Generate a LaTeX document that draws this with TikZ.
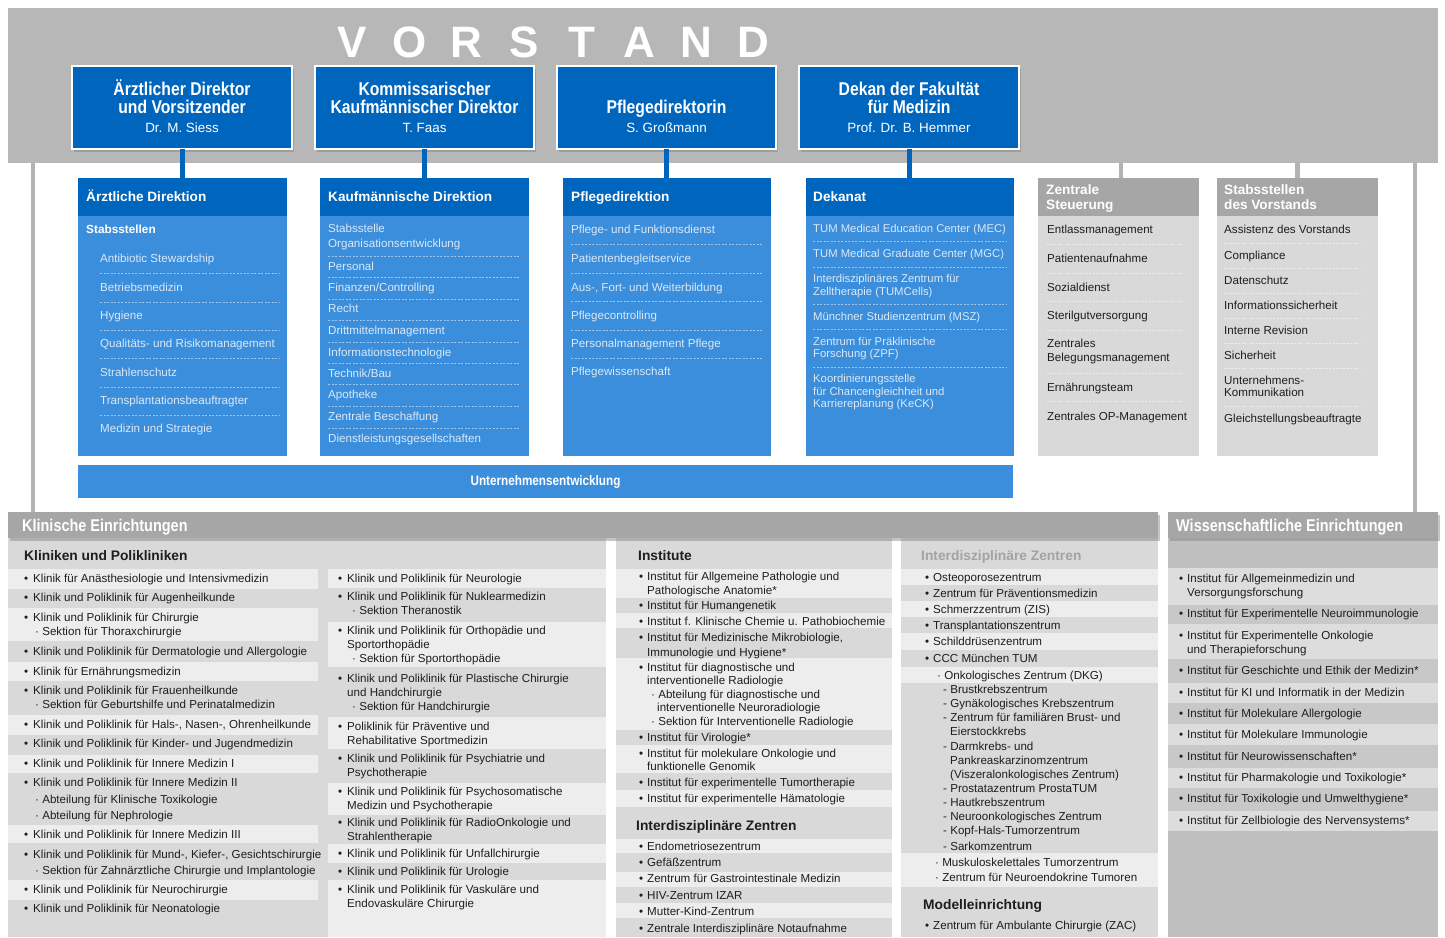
\documentclass[tikz,border=0pt]{standalone}
\usepackage{fontspec}
\setmainfont{Liberation Sans}
\newfontfamily\narrowfont[FakeStretch=0.85]{Liberation Sans}
\usetikzlibrary{shadows}
\definecolor{tumblue}{HTML}{0065BD}
\definecolor{lightblue}{HTML}{3A8EDC}
\definecolor{bandgray}{HTML}{B7B7B7}
\definecolor{hdrgray}{HTML}{A6A6A6}
\definecolor{panelgray}{HTML}{D9D9D9}
\definecolor{stripe}{HTML}{EDEDED}
\definecolor{wissbg}{HTML}{BFBFBF}
\definecolor{wissdark}{HTML}{C8C8C8}
\definecolor{wisslight}{HTML}{DDDDDD}
\definecolor{txt}{HTML}{1E1E1E}
\definecolor{btxt}{HTML}{DCE8F6}
\definecolor{dashblue}{HTML}{A0C6EE}
\definecolor{dashgray}{HTML}{EEEEEE}
\definecolor{linegray}{HTML}{B3B3B3}
\definecolor{titlegray}{HTML}{A3A3A3}
\newcounter{tn}
\newcommand\putT[4]{\stepcounter{tn}\node[#1] (t\thetn) at (#2,#3) {#4};}
\newcommand\lsB[2]{\stepcounter{tn}\node[lt] (b\thetn) at (\colB,#1) {•};\node[lt] (t\thetn) at (\colT,#1) {#2};}
\newcommand\lsC[2]{\stepcounter{tn}\node[lt] (t\thetn) at (\colT,#1) {#2};}
\newcommand\lsX[3]{\stepcounter{tn}\node[lt] (t\thetn) at (#1,#2) {#3};}
\begin{document}
\begin{tikzpicture}[x=1pt,y=-1pt,
  lt/.style={anchor=west,inner sep=0pt,text=txt,font=\fontsize{11.6}{14}\selectfont,text height=9pt,text depth=1pt},
  bt/.style={lt,text=btxt},
  dt/.style={lt,text=btxt,font=\fontsize{11.3}{13}\selectfont},
  bth/.style={lt,text=white,font=\bfseries\fontsize{11.8}{14}\selectfont},
  hdr/.style={anchor=west,inner sep=0pt,text=white,font=\bfseries\fontsize{13.6}{16}\selectfont,text height=9.8pt,text depth=0pt},
  ttl/.style={anchor=west,inner sep=0pt,text=txt,font=\bfseries\fontsize{13.8}{16}\selectfont,text height=9.9pt,text depth=0pt},
  topt/.style={inner sep=0pt,text=white,font=\narrowfont\bfseries\fontsize{18.5}{20}\selectfont,text height=13.3pt,text depth=0pt},
  topn/.style={inner sep=0pt,text=white,font=\fontsize{13.4}{15}\selectfont,text height=9.6pt,text depth=0pt},
  bar/.style={anchor=west,inner sep=0pt,text=white,font=\narrowfont\bfseries\fontsize{17}{19}\selectfont,text height=12.2pt,text depth=0pt},
  box/.style={anchor=north west,inner sep=0pt,outer sep=0pt},
  dsep/.style={draw=dashblue,line width=0.8pt,dash pattern=on 2.2pt off 1.3pt},
  gsep/.style={draw=dashgray,line width=0.8pt,dash pattern=on 2.2pt off 1.3pt},
  bconn/.style={draw=tumblue,line width=5pt},
  gconn/.style={draw=linegray,line width=4.5pt},
  shd/.style={drop shadow={opacity=0.45,shadow xshift=2pt,shadow yshift=-3pt}}
]
\useasboundingbox (0,0) rectangle (1445,937);
\fill[white] (0,0) rectangle (1445,937);

% ---------- Vorstand band ----------
\node[box,fill=bandgray,minimum width=1430pt,minimum height=155pt] (band) at (8,8) {};
\foreach \l [count=\i] in {V,O,R,S,T,A,N,D}
  \node[inner sep=0pt,text=white,font=\bfseries\fontsize{44}{44}\selectfont] (v\i) at (352+57.4*\i-57.4,42) {\l};

% ---------- boxes ----------
\node[box,fill=lightblue,minimum width=209pt,minimum height=278pt] (dir1) at (78,178) {};
\node[box,fill=lightblue,minimum width=209pt,minimum height=278pt] (dir2) at (320,178) {};
\node[box,fill=lightblue,minimum width=208pt,minimum height=278pt] (dir3) at (563,178) {};
\node[box,fill=lightblue,minimum width=208pt,minimum height=278pt] (dir4) at (806,178) {};
\node[box,fill=tumblue,minimum width=209pt,minimum height=38pt] (dir1h) at (78,178) {};
\node[box,fill=tumblue,minimum width=209pt,minimum height=38pt] (dir2h) at (320,178) {};
\node[box,fill=tumblue,minimum width=208pt,minimum height=38pt] (dir3h) at (563,178) {};
\node[box,fill=tumblue,minimum width=208pt,minimum height=38pt] (dir4h) at (806,178) {};
\node[box,fill=panelgray,minimum width=161pt,minimum height=278pt] (zs) at (1038,178) {};
\node[box,fill=hdrgray,minimum width=161pt,minimum height=38pt] (zsh) at (1038,178) {};
\node[box,fill=panelgray,minimum width=161pt,minimum height=278pt] (sv) at (1217,178) {};
\node[box,fill=hdrgray,minimum width=161pt,minimum height=38pt] (svh) at (1217,178) {};
\node[box,fill=lightblue,minimum width=935pt,minimum height=33pt] (ue) at (78,465) {};
\node[text=white,inner sep=0pt,font=\narrowfont\bfseries\fontsize{13.8}{15}\selectfont] (uet) at (ue.center) {Unternehmensentwicklung};

% panels
\node[box,fill=panelgray,minimum width=598pt,minimum height=399pt] (kp) at (8,538) {};
\node[box,fill=panelgray,minimum width=276pt,minimum height=399pt] (ip) at (616,538) {};
\node[box,fill=panelgray,minimum width=257pt,minimum height=399pt] (zp) at (901,538) {};
\node[box,fill=wissbg,minimum width=270pt,minimum height=399pt] (wp) at (1168,538) {};

% connectors
\coordinate (gl) at (33,163);
\coordinate (gr) at (1415,163);
\node[box,fill=hdrgray,minimum width=1150pt,minimum height=26pt,shd] (klin) at (8,512) {};
\node[box,fill=hdrgray,minimum width=270pt,minimum height=26pt,shd] (wiss) at (1168,512) {};
\draw[gconn] (gl) -- (gl |- klin.north);
\draw[gconn] (gr) -- (gr |- wiss.north);
\draw[gconn] (1121,163) coordinate (zsc) -- (zsc |- zs.north);
\draw[gconn] (sv.north) -- (sv.north |- band.south);

\node[box,fill=tumblue,draw=white,line width=2pt,minimum width=220pt,minimum height=83pt,shd] (top1) at (72,66) {};
\node[box,fill=tumblue,draw=white,line width=2pt,minimum width=219pt,minimum height=83pt,shd] (top2) at (315,66) {};
\node[box,fill=tumblue,draw=white,line width=2pt,minimum width=219pt,minimum height=83pt,shd] (top3) at (557,66) {};
\node[box,fill=tumblue,draw=white,line width=2pt,minimum width=220pt,minimum height=83pt,shd] (top4) at (799,66) {};
\draw[bconn] (top1.south) -- (top1.south |- dir1.north);
\draw[bconn] (top2.south) -- (top2.south |- dir2.north);
\draw[bconn] (top3.south) -- (top3.south |- dir3.north);
\draw[bconn] (top4.south) -- (top4.south |- dir4.north);

% top box texts
\node[topt] (top1a) at (182,89) {Ärztlicher Direktor};
\node[topt] (top1b) at (182,107) {und Vorsitzender};
\node[topn] (top1c) at (182,128) {Dr. M. Siess};
\node[topt] (top2a) at (424.5,89) {Kommissarischer};
\node[topt] (top2b) at (424.5,107) {Kaufmännischer Direktor};
\node[topn] (top2c) at (424.5,128) {T. Faas};
\node[topt] (top3a) at (666.5,107) {Pflegedirektorin};
\node[topn] (top3c) at (666.5,128) {S. Großmann};
\node[topt] (top4a) at (909,89) {Dekan der Fakultät};
\node[topt] (top4b) at (909,107) {für Medizin};
\node[topn] (top4c) at (909,128) {Prof. Dr. B. Hemmer};

% ---------- Direktion headers ----------
\node[hdr] (h1) at (86,197) {Ärztliche Direktion};
\node[hdr] (h2) at (328,197) {Kaufmännische Direktion};
\node[hdr] (h3) at (571,197) {Pflegedirektion};
\node[hdr] (h4) at (813,197) {Dekanat};
\node[hdr] (h5a) at (1046,190) {Zentrale};
\node[hdr] (h5b) at (1046,205) {Steuerung};
\node[hdr] (h6a) at (1224,190) {Stabsstellen};
\node[hdr] (h6b) at (1224,205) {des Vorstands};

% Ärztliche Direktion
\putT{bth}{86}{229}{Stabsstellen}
\putT{bt}{100}{258}{Antibiotic Stewardship}
\putT{bt}{100}{287}{Betriebsmedizin}
\putT{bt}{100}{315}{Hygiene}
\putT{bt}{100}{343}{Qualitäts- und Risikomanagement}
\putT{bt}{100}{372}{Strahlenschutz}
\putT{bt}{100}{400}{Transplantationsbeauftragter}
\putT{bt}{100}{428}{Medizin und Strategie}
\foreach \y in {273,302,330,358,387,415} \draw[dsep] (100,\y) -- (279,\y);

% Kaufmännische Direktion
\putT{bt}{328}{228}{Stabsstelle}
\putT{bt}{328}{243}{Organisationsentwicklung}
\putT{bt}{328}{266}{Personal}
\putT{bt}{328}{287}{Finanzen/Controlling}
\putT{bt}{328}{308}{Recht}
\putT{bt}{328}{330}{Drittmittelmanagement}
\putT{bt}{328}{352}{Informationstechnologie}
\putT{bt}{328}{373}{Technik/Bau}
\putT{bt}{328}{394}{Apotheke}
\putT{bt}{328}{416}{Zentrale Beschaffung}
\putT{bt}{328}{438}{Dienstleistungsgesellschaften}
\foreach \y in {256,277,299,320,342,363,384,406,428} \draw[dsep] (328,\y) -- (519,\y);

% Pflegedirektion
\putT{bt}{571}{229}{Pflege- und Funktionsdienst}
\putT{bt}{571}{258}{Patientenbegleitservice}
\putT{bt}{571}{287}{Aus-, Fort- und Weiterbildung}
\putT{bt}{571}{315}{Pflegecontrolling}
\putT{bt}{571}{343}{Personalmanagement Pflege}
\putT{bt}{571}{371}{Pflegewissenschaft}
\foreach \y in {244,273,301,330,358} \draw[dsep] (571,\y) -- (762,\y);

% Dekanat
\putT{dt}{813}{228}{TUM Medical Education Center (MEC)}
\putT{dt}{813}{253}{TUM Medical Graduate Center (MGC)}
\putT{dt}{813}{278}{Interdisziplinäres Zentrum für}
\putT{dt}{813}{291}{Zelltherapie (TUMCells)}
\putT{dt}{813}{316}{Münchner Studienzentrum (MSZ)}
\putT{dt}{813}{341}{Zentrum für Präklinische}
\putT{dt}{813}{353}{Forschung (ZPF)}
\putT{dt}{813}{378}{Koordinierungsstelle}
\putT{dt}{813}{391}{für Chancengleichheit und}
\putT{dt}{813}{403}{Karriereplanung (KeCK)}
\foreach \y in {241,267,304,329,367} \draw[dsep] (813,\y) -- (1006,\y);

% Zentrale Steuerung
\putT{lt}{1047}{229}{Entlassmanagement}
\putT{lt}{1047}{258}{Patientenaufnahme}
\putT{lt}{1047}{287}{Sozialdienst}
\putT{lt}{1047}{315}{Sterilgutversorgung}
\putT{lt}{1047}{343}{Zentrales}
\putT{lt}{1047}{357}{Belegungsmanagement}
\putT{lt}{1047}{387}{Ernährungsteam}
\putT{lt}{1047}{416}{Zentrales OP-Management}
\foreach \y in {244,273,301,330,373,401} \draw[gsep] (1047,\y) -- (1182,\y);

% Stabsstellen des Vorstands
\putT{lt}{1224}{229}{Assistenz des Vorstands}
\putT{lt}{1224}{255}{Compliance}
\putT{lt}{1224}{280}{Datenschutz}
\putT{lt}{1224}{305}{Informationssicherheit}
\putT{lt}{1224}{330}{Interne Revision}
\putT{lt}{1224}{355}{Sicherheit}
\putT{lt}{1224}{380}{Unternehmens-}
\putT{lt}{1224}{392}{Kommunikation}
\putT{lt}{1224}{418}{Gleichstellungsbeauftragte}
\foreach \y in {243,268,293,318,343,368,406} \draw[gsep] (1224,\y) -- (1361,\y);

% ---------- bars ----------
\node[bar] (klint) at (22,525) {Klinische Einrichtungen};
\node[bar] (wisst) at (1176,525) {Wissenschaftliche Einrichtungen};

% ---------- stripes ----------
\foreach \a/\b in {569/589,608/641,662/681,715/735,755/773,825/843,880/900}
  \fill[stripe] (8,\a) rectangle (318,\b);
\foreach \a/\b in {569/588,622/667,717/749,783/815,844/863,880/937}
  \fill[stripe] (328,\a) rectangle (606,\b);
\foreach \a/\b in {569/598,613/628,658/730,745/773,790/807,839/853,872/887,903/918}
  \fill[stripe] (616,\a) rectangle (892,\b);
\foreach \a/\b in {569/585,601/617,633/650,667/683,853/887}
  \fill[stripe] (901,\a) rectangle (1158,\b);
\foreach \a/\b in {568/605,624/659,683/703,724/745,768/788,811/831}
  \fill[wisslight] (1168,\a) rectangle (1438,\b);
\foreach \a/\b in {605/624,659/683,703/724,745/768,788/811}
  \fill[wissdark] (1168,\a) rectangle (1438,\b);

% ---------- Kliniken und Polikliniken ----------
\node[ttl] (kpt) at (24,556) {Kliniken und Polikliniken};
\def\colB{24}\def\colT{33}
\lsB{578}{Klinik für Anästhesiologie und Intensivmedizin}
\lsB{597}{Klinik und Poliklinik für Augenheilkunde}
\lsB{617}{Klinik und Poliklinik für Chirurgie}
\lsX{35}{631}{· Sektion für Thoraxchirurgie}
\lsB{651}{Klinik und Poliklinik für Dermatologie und Allergologie}
\lsB{671}{Klinik für Ernährungsmedizin}
\lsB{690}{Klinik und Poliklinik für Frauenheilkunde}
\lsX{35}{704}{· Sektion für Geburtshilfe und Perinatalmedizin}
\lsB{724}{Klinik und Poliklinik für Hals-, Nasen-, Ohrenheilkunde}
\lsB{743}{Klinik und Poliklinik für Kinder- und Jugendmedizin}
\lsB{763}{Klinik und Poliklinik für Innere Medizin I}
\lsB{782}{Klinik und Poliklinik für Innere Medizin II}
\lsX{35}{799}{· Abteilung für Klinische Toxikologie}
\lsX{35}{815}{· Abteilung für Nephrologie}
\lsB{834}{Klinik und Poliklinik für Innere Medizin III}
\lsB{854}{Klinik und Poliklinik für Mund-, Kiefer-, Gesichtschirurgie}
\lsX{35}{870}{· Sektion für Zahnärztliche Chirurgie und Implantologie}
\lsB{889}{Klinik und Poliklinik für Neurochirurgie}
\lsB{908}{Klinik und Poliklinik für Neonatologie}

\def\colB{338}\def\colT{347}
\lsB{578}{Klinik und Poliklinik für Neurologie}
\lsB{596}{Klinik und Poliklinik für Nuklearmedizin}
\lsX{352}{610}{· Sektion Theranostik}
\lsB{630}{Klinik und Poliklinik für Orthopädie und}
\lsC{644}{Sportorthopädie}
\lsX{352}{658}{· Sektion für Sportorthopädie}
\lsB{678}{Klinik und Poliklinik für Plastische Chirurgie}
\lsC{692}{und Handchirurgie}
\lsX{352}{706}{· Sektion für Handchirurgie}
\lsB{726}{Poliklinik für Präventive und}
\lsC{740}{Rehabilitative Sportmedizin}
\lsB{758}{Klinik und Poliklinik für Psychiatrie und}
\lsC{772}{Psychotherapie}
\lsB{791}{Klinik und Poliklinik für Psychosomatische}
\lsC{805}{Medizin und Psychotherapie}
\lsB{822}{Klinik und Poliklinik für RadioOnkologie und}
\lsC{836}{Strahlentherapie}
\lsB{853}{Klinik und Poliklinik für Unfallchirurgie}
\lsB{871}{Klinik und Poliklinik für Urologie}
\lsB{889}{Klinik und Poliklinik für Vaskuläre und}
\lsC{903}{Endovaskuläre Chirurgie}

% ---------- Institute ----------
\node[ttl] (ipt) at (638,556) {Institute};
\def\colB{639}\def\colT{647}
\lsB{576}{Institut für Allgemeine Pathologie und}
\lsC{590}{Pathologische Anatomie*}
\lsB{605}{Institut für Humangenetik}
\lsB{621}{Institut f. Klinische Chemie u. Pathobiochemie}
\lsB{637}{Institut für Medizinische Mikrobiologie,}
\lsC{652}{Immunologie und Hygiene*}
\lsB{667}{Institut für diagnostische und}
\lsC{680}{interventionelle Radiologie}
\lsX{651}{694}{· Abteilung für diagnostische und}
\lsX{657}{707}{interventionelle Neuroradiologie}
\lsX{651}{721}{· Sektion für Interventionelle Radiologie}
\lsB{737}{Institut für Virologie*}
\lsB{753}{Institut für molekulare Onkologie und}
\lsC{766}{funktionelle Genomik}
\lsB{782}{Institut für experimentelle Tumortherapie}
\lsB{798}{Institut für experimentelle Hämatologie}
\node[ttl] (izt) at (636,826) {Interdisziplinäre Zentren};
\lsB{846}{Endometriosezentrum}
\lsB{862}{Gefäßzentrum}
\lsB{878}{Zentrum für Gastrointestinale Medizin}
\lsB{895}{HIV-Zentrum IZAR}
\lsB{911}{Mutter-Kind-Zentrum}
\lsB{928}{Zentrale Interdisziplinäre Notaufnahme}

% ---------- Interdisziplinäre Zentren ----------
\node[ttl,text=titlegray] (zpt) at (921,556) {Interdisziplinäre Zentren};
\def\colB{925}\def\colT{933}
\lsB{577}{Osteoporosezentrum}
\lsB{593}{Zentrum für Präventionsmedizin}
\lsB{609}{Schmerzzentrum (ZIS)}
\lsB{625}{Transplantationszentrum}
\lsB{641}{Schilddrüsenzentrum}
\lsB{658}{CCC München TUM}
\lsX{937}{675}{· Onkologisches Zentrum (DKG)}
\lsX{943}{689}{- Brustkrebszentrum}
\lsX{943}{703}{- Gynäkologisches Krebszentrum}
\lsX{943}{717}{- Zentrum für familiären Brust- und}
\lsX{950}{731}{Eierstockkrebs}
\lsX{943}{746}{- Darmkrebs- und}
\lsX{950}{760}{Pankreaskarzinomzentrum}
\lsX{950}{774}{(Viszeralonkologisches Zentrum)}
\lsX{943}{788}{- Prostatazentrum ProstaTUM}
\lsX{943}{802}{- Hautkrebszentrum}
\lsX{943}{816}{- Neuroonkologisches Zentrum}
\lsX{943}{830}{- Kopf-Hals-Tumorzentrum}
\lsX{943}{846}{- Sarkomzentrum}
\lsX{935}{862}{· Muskuloskelettales Tumorzentrum}
\lsX{935}{877}{· Zentrum für Neuroendokrine Tumoren}
\node[ttl] (mdt) at (923,905) {Modelleinrichtung};
\lsB{925}{Zentrum für Ambulante Chirurgie (ZAC)}

% ---------- Wissenschaftliche Einrichtungen ----------
\def\colB{1179}\def\colT{1187}
\lsB{578}{Institut für Allgemeinmedizin und}
\lsC{592}{Versorgungsforschung}
\lsB{613}{Institut für Experimentelle Neuroimmunologie}
\lsB{635}{Institut für Experimentelle Onkologie}
\lsC{649}{und Therapieforschung}
\lsB{670}{Institut für Geschichte und Ethik der Medizin*}
\lsB{692}{Institut für KI und Informatik in der Medizin}
\lsB{713}{Institut für Molekulare Allergologie}
\lsB{734}{Institut für Molekulare Immunologie}
\lsB{756}{Institut für Neurowissenschaften*}
\lsB{777}{Institut für Pharmakologie und Toxikologie*}
\lsB{798}{Institut für Toxikologie und Umwelthygiene*}
\lsB{820}{Institut für Zellbiologie des Nervensystems*}
\end{tikzpicture}
\end{document}
